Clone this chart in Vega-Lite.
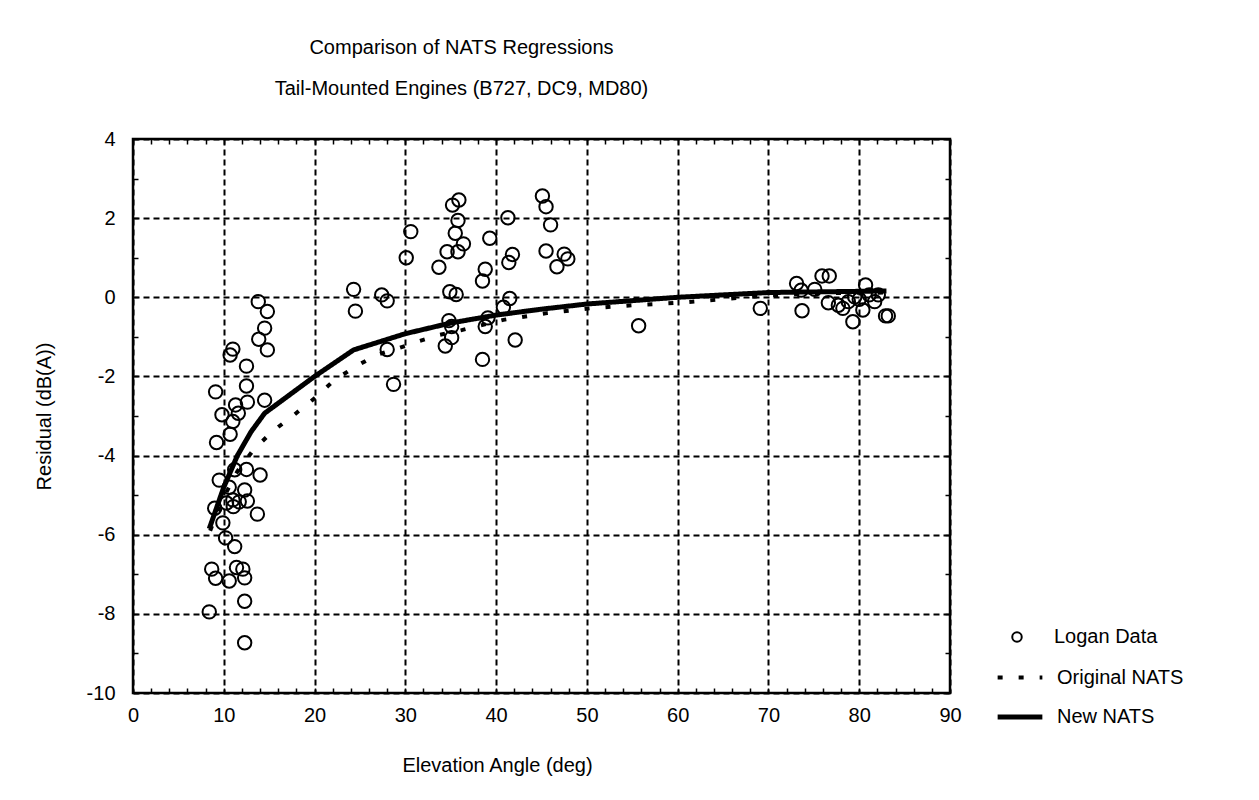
{
  "$schema": "https://vega.github.io/schema/vega-lite/v6.json",
  "width": 817,
  "height": 554,
  "autosize": {"type": "none"},
  "padding": {"left": 133, "top": 139, "right": 309, "bottom": 107},
  "background": "white",
  "title": {
    "text": ["Comparison of NATS Regressions", "Tail-Mounted Engines (B727, DC9, MD80)"],
    "font": "Liberation Sans",
    "fontSize": 20,
    "fontWeight": "normal",
    "color": "black",
    "lineHeight": 41,
    "anchor": "middle",
    "offset": 30,
    "dx": -80
  },
  "datasets": {
    "pts": [
      {"x": 8.4, "y": -7.95}, {"x": 8.67, "y": -6.87}, {"x": 9.1, "y": -7.1}, {"x": 10.6, "y": -7.17},
      {"x": 11.4, "y": -6.83}, {"x": 12.1, "y": -6.87}, {"x": 12.3, "y": -7.09}, {"x": 12.3, "y": -7.68},
      {"x": 12.3, "y": -8.73}, {"x": 11.2, "y": -6.3}, {"x": 10.2, "y": -6.08}, {"x": 9.9, "y": -5.7},
      {"x": 13.7, "y": -5.48}, {"x": 9.0, "y": -5.33}, {"x": 10.3, "y": -5.2}, {"x": 11.05, "y": -5.29},
      {"x": 11.0, "y": -5.12}, {"x": 11.7, "y": -5.17}, {"x": 12.6, "y": -5.15}, {"x": 12.3, "y": -4.87},
      {"x": 10.6, "y": -4.8}, {"x": 9.5, "y": -4.62}, {"x": 14.0, "y": -4.49}, {"x": 12.5, "y": -4.35},
      {"x": 11.2, "y": -4.36}, {"x": 9.2, "y": -3.67}, {"x": 10.7, "y": -3.46}, {"x": 11.0, "y": -3.14},
      {"x": 9.8, "y": -2.97}, {"x": 11.6, "y": -2.93}, {"x": 11.3, "y": -2.72}, {"x": 12.6, "y": -2.65},
      {"x": 14.5, "y": -2.6}, {"x": 9.1, "y": -2.39}, {"x": 12.5, "y": -2.24}, {"x": 12.5, "y": -1.74},
      {"x": 11.0, "y": -1.31}, {"x": 10.7, "y": -1.46}, {"x": 13.85, "y": -1.06}, {"x": 14.8, "y": -1.33},
      {"x": 14.5, "y": -0.78}, {"x": 14.8, "y": -0.36}, {"x": 13.8, "y": -0.11},
      {"x": 24.3, "y": 0.2}, {"x": 24.5, "y": -0.35}, {"x": 27.4, "y": 0.06}, {"x": 28.0, "y": -0.09},
      {"x": 28.0, "y": -1.32}, {"x": 28.7, "y": -2.2}, {"x": 30.1, "y": 1.0}, {"x": 30.6, "y": 1.66},
      {"x": 33.7, "y": 0.76}, {"x": 34.6, "y": 1.15}, {"x": 35.2, "y": 2.33}, {"x": 35.9, "y": 2.46},
      {"x": 35.8, "y": 1.94}, {"x": 35.5, "y": 1.62}, {"x": 36.4, "y": 1.35}, {"x": 35.8, "y": 1.15},
      {"x": 34.9, "y": 0.14}, {"x": 35.6, "y": 0.07}, {"x": 34.8, "y": -0.59}, {"x": 35.1, "y": -0.74},
      {"x": 35.1, "y": -1.02}, {"x": 34.4, "y": -1.23}, {"x": 38.5, "y": 0.41}, {"x": 38.8, "y": 0.71},
      {"x": 39.3, "y": 1.49}, {"x": 39.1, "y": -0.52}, {"x": 38.8, "y": -0.74}, {"x": 38.5, "y": -1.57},
      {"x": 41.3, "y": 2.01}, {"x": 41.8, "y": 1.08}, {"x": 41.4, "y": 0.88}, {"x": 41.5, "y": -0.03},
      {"x": 40.8, "y": -0.25}, {"x": 42.1, "y": -1.08}, {"x": 45.1, "y": 2.56}, {"x": 45.5, "y": 2.29},
      {"x": 46.0, "y": 1.83}, {"x": 45.5, "y": 1.17}, {"x": 47.5, "y": 1.09}, {"x": 47.9, "y": 0.97},
      {"x": 46.7, "y": 0.77},
      {"x": 55.7, "y": -0.72}, {"x": 69.1, "y": -0.28}, {"x": 73.1, "y": 0.35}, {"x": 73.6, "y": 0.18},
      {"x": 73.7, "y": -0.34}, {"x": 75.1, "y": 0.2}, {"x": 75.9, "y": 0.54}, {"x": 76.7, "y": 0.54},
      {"x": 76.6, "y": -0.14}, {"x": 77.7, "y": -0.2}, {"x": 78.2, "y": -0.28}, {"x": 78.8, "y": -0.11},
      {"x": 79.3, "y": -0.62}, {"x": 79.5, "y": 0.01}, {"x": 80.0, "y": -0.05}, {"x": 80.4, "y": -0.32},
      {"x": 80.7, "y": 0.31}, {"x": 81.1, "y": 0.06}, {"x": 81.7, "y": -0.11}, {"x": 82.1, "y": 0.06},
      {"x": 82.9, "y": -0.47}, {"x": 83.2, "y": -0.47}
    ],
    "orig": [
      {"x": 8.5, "y": -5.9}, {"x": 10, "y": -5.05}, {"x": 11.5, "y": -4.4}, {"x": 13.25, "y": -3.86},
      {"x": 15.3, "y": -3.4}, {"x": 17.7, "y": -2.98}, {"x": 20, "y": -2.55}, {"x": 22.2, "y": -2.09},
      {"x": 24.6, "y": -1.74}, {"x": 26.8, "y": -1.46}, {"x": 29.2, "y": -1.29}, {"x": 31.5, "y": -1.11},
      {"x": 33.8, "y": -0.95}, {"x": 36.2, "y": -0.83}, {"x": 40.8, "y": -0.57}, {"x": 45.6, "y": -0.4},
      {"x": 50.3, "y": -0.28}, {"x": 55, "y": -0.2}, {"x": 60, "y": -0.14}, {"x": 65, "y": -0.05},
      {"x": 70, "y": 0.05}, {"x": 75, "y": 0.1}, {"x": 83, "y": 0.12}
    ],
    "new": [
      {"x": 8.4, "y": -5.85}, {"x": 10, "y": -4.8}, {"x": 11.5, "y": -4.0}, {"x": 13, "y": -3.4},
      {"x": 14.5, "y": -2.93}, {"x": 20, "y": -2.0}, {"x": 24.3, "y": -1.33}, {"x": 30, "y": -0.92},
      {"x": 35, "y": -0.65}, {"x": 40, "y": -0.45}, {"x": 45, "y": -0.3}, {"x": 50, "y": -0.17},
      {"x": 60, "y": 0.0}, {"x": 70, "y": 0.12}, {"x": 83, "y": 0.16}
    ]
  },
  "layer": [
    {
      "data": {"name": "pts"},
      "transform": [{"calculate": "'Logan Data'", "as": "series"}],
      "mark": {"type": "point", "filled": false, "stroke": "black", "strokeWidth": 2, "size": 180, "opacity": 1},
      "encoding": {
        "x": {
          "field": "x", "type": "quantitative",
          "scale": {"domain": [0, 90], "nice": false, "zero": false},
          "axis": {
            "orient": "bottom", "values": [0, 10, 20, 30, 40, 50, 60, 70, 80, 90],
            "grid": true, "gridColor": "black", "gridDash": [6, 4], "gridWidth": 2, "gridOpacity": 1,
            "ticks": false, "domain": false, "labelPadding": 12, "labelFlush": false,
            "labelExpr": "toString(datum.value)",
            "title": "Elevation Angle (deg)", "titlePadding": 30, "titleX": 364
          }
        },
        "y": {
          "field": "y", "type": "quantitative",
          "scale": {"domain": [-10, 4], "nice": false, "zero": false},
          "axis": {
            "orient": "left", "values": [-10, -8, -6, -4, -2, 0, 2, 4],
            "grid": true, "gridColor": "black", "gridDash": [6, 4], "gridWidth": 2, "gridOpacity": 1,
            "ticks": false, "domain": false, "labelPadding": 18, "labelFlush": false,
            "labelExpr": "toString(datum.value)",
            "title": "Residual (dB(A))", "titlePadding": 32
          }
        },
        "shape": {
          "field": "series", "type": "nominal",
          "scale": {"domain": ["Logan Data"], "range": ["circle"]},
          "legend": {
            "title": null, "orient": "none", "legendX": 874, "legendY": 488,
            "symbolSize": 90, "symbolStrokeWidth": 2, "symbolStrokeColor": "black", "symbolFillColor": "transparent",
            "labelOffset": 27
          }
        }
      }
    },
    {
      "data": {"name": "orig"},
      "transform": [{"calculate": "'Original NATS'", "as": "series"}],
      "mark": {"type": "line", "color": "black", "strokeCap": "butt"},
      "encoding": {
        "x": {
          "field": "x", "type": "quantitative",
          "axis": {
            "orient": "bottom", "values": [0,2,4,6,8,10,12,14,16,18,20,22,24,26,28,30,32,34,36,38,40,42,44,46,48,50,52,54,56,58,60,62,64,66,68,70,72,74,76,78,80,82,84,86,88,90],
            "grid": false, "labels": false, "domain": false, "ticks": true, "tickSize": -5, "tickWidth": 1.5, "tickColor": "black", "title": null
          }
        },
        "y": {
          "field": "y", "type": "quantitative",
          "axis": {
            "orient": "left", "values": [-10,-9,-8,-7,-6,-5,-4,-3,-2,-1,0,1,2,3,4],
            "grid": false, "labels": false, "domain": false, "ticks": true, "tickSize": -5, "tickWidth": 1.5, "tickColor": "black", "title": null
          }
        },
        "strokeDash": {
          "field": "series", "type": "nominal",
          "scale": {"domain": ["Original NATS", "New NATS"], "range": [[5, 16], [1, 0]]},
          "legend": {
            "title": null, "orient": "none", "legendX": 862, "legendY": 514,
            "symbolType": "stroke", "symbolSize": 2000, "symbolStrokeColor": "black", "labelOffset": 12, "rowPadding": 4
          }
        },
        "strokeWidth": {
          "field": "series", "type": "nominal",
          "scale": {"domain": ["Original NATS", "New NATS"], "range": [4, 5]},
          "legend": {
            "title": null, "orient": "none", "legendX": 862, "legendY": 514,
            "symbolType": "stroke", "symbolSize": 2000, "symbolStrokeColor": "black", "labelOffset": 12, "rowPadding": 4
          }
        }
      }
    },
    {
      "data": {"name": "new"},
      "transform": [{"calculate": "'New NATS'", "as": "series"}],
      "mark": {"type": "line", "color": "black", "strokeCap": "butt"},
      "encoding": {
        "x": {
          "field": "x", "type": "quantitative",
          "axis": {
            "orient": "top", "values": [0,2,4,6,8,10,12,14,16,18,20,22,24,26,28,30,32,34,36,38,40,42,44,46,48,50,52,54,56,58,60,62,64,66,68,70,72,74,76,78,80,82,84,86,88,90],
            "grid": false, "labels": false, "domain": false, "ticks": true, "tickSize": -5, "tickWidth": 1.5, "tickColor": "black", "title": null
          }
        },
        "y": {
          "field": "y", "type": "quantitative",
          "axis": {
            "orient": "right", "values": [-10,-9,-8,-7,-6,-5,-4,-3,-2,-1,0,1,2,3,4],
            "grid": false, "labels": false, "domain": false, "ticks": true, "tickSize": -5, "tickWidth": 1.5, "tickColor": "black", "title": null
          }
        },
        "strokeDash": {"field": "series", "type": "nominal"},
        "strokeWidth": {"field": "series", "type": "nominal"}
      }
    }
  ],
  "resolve": {"axis": {"x": "independent", "y": "independent"}},
  "config": {
    "view": {"stroke": "black", "strokeWidth": 2.5},
    "font": "Liberation Sans",
    "axis": {
      "labelFont": "Liberation Sans", "labelFontSize": 20, "labelColor": "black",
      "titleFont": "Liberation Sans", "titleFontSize": 20, "titleFontWeight": "normal", "titleColor": "black"
    },
    "legend": {
      "labelFont": "Liberation Sans", "labelFontSize": 20, "labelColor": "black", "padding": 0
    }
  }
}
